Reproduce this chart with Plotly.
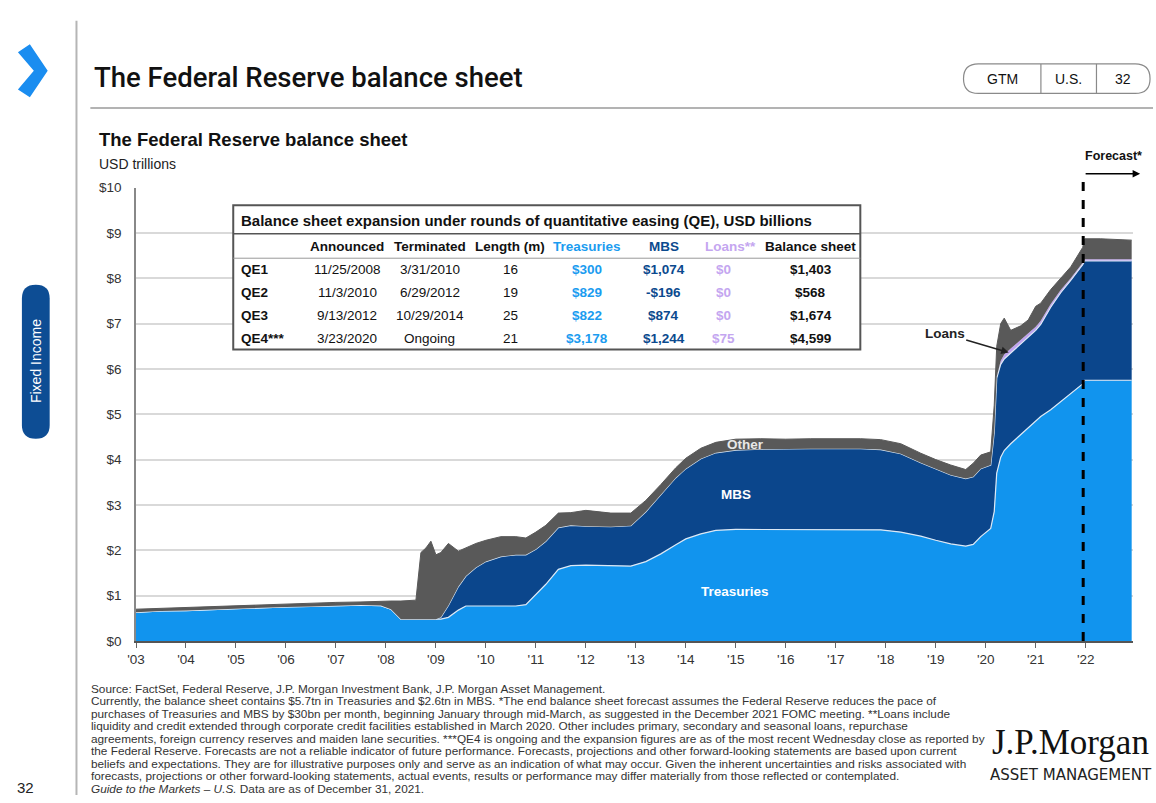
import plotly.graph_objects as go

W, H = 1156, 803

# decimal years of the sampled points
years = [
    2003.0, 2003.5, 2004.0, 2004.5, 2005.0, 2005.5, 2006.0, 2006.5, 2007.0, 2007.5,
    2007.9, 2008.1, 2008.3, 2008.6, 2008.7, 2008.8, 2008.9, 2009.0, 2009.1, 2009.25,
    2009.45, 2009.6, 2009.8, 2010.0, 2010.3, 2010.6, 2010.8, 2011.0, 2011.2, 2011.45,
    2011.7, 2012.0, 2012.5, 2012.9, 2013.2, 2013.5, 2013.8, 2014.0, 2014.3, 2014.6,
    2015.0, 2015.5, 2016.0, 2016.5, 2017.0, 2017.5, 2017.9, 2018.3, 2018.7, 2019.0,
    2019.3, 2019.6, 2019.75, 2019.9, 2020.1, 2020.17, 2020.22, 2020.3, 2020.37, 2020.5,
    2020.7, 2020.85, 2021.0, 2021.1, 2021.3, 2021.5, 2021.7, 2021.94, 2021.98, 2022.3,
    2022.6, 2022.92,
]

# USD trillions
treasuries = [
    0.63, 0.66, 0.67, 0.69, 0.72, 0.73, 0.75, 0.76, 0.78, 0.79,
    0.78, 0.70, 0.48, 0.48, 0.48, 0.48, 0.48, 0.48, 0.48, 0.52,
    0.68, 0.77, 0.77, 0.77, 0.77, 0.77, 0.80, 1.02, 1.25, 1.58,
    1.66, 1.67, 1.66, 1.65, 1.75, 1.92, 2.12, 2.25, 2.36, 2.44,
    2.46, 2.46, 2.46, 2.46, 2.46, 2.46, 2.45, 2.40, 2.31, 2.22,
    2.14, 2.09, 2.13, 2.30, 2.48, 2.85, 3.70, 4.05, 4.20, 4.35,
    4.55, 4.72, 4.85, 4.95, 5.10, 5.28, 5.45, 5.67, 5.75, 5.75,
    5.75, 5.75,
]
mbs = [
    0, 0, 0, 0, 0, 0, 0, 0, 0, 0,
    0, 0, 0, 0, 0, 0, 0, 0, 0.04, 0.26,
    0.52, 0.66, 0.85, 0.98, 1.09, 1.13, 1.10, 1.00, 0.95, 0.92,
    0.89, 0.86, 0.86, 0.89, 1.10, 1.31, 1.48, 1.55, 1.66, 1.71,
    1.75, 1.77, 1.78, 1.78, 1.78, 1.78, 1.77, 1.73, 1.62, 1.58,
    1.52, 1.49, 1.49, 1.50, 1.40, 1.75, 2.10, 2.05, 2.02, 2.00,
    2.00, 1.98, 2.00, 2.03, 2.26, 2.40, 2.50, 2.63, 2.63, 2.63,
    2.63, 2.63,
]
loans = [
    0, 0, 0, 0, 0, 0, 0, 0, 0, 0,
    0, 0, 0, 0, 0, 0, 0, 0, 0, 0,
    0, 0, 0, 0, 0, 0, 0, 0, 0, 0,
    0, 0, 0, 0, 0, 0, 0, 0, 0, 0,
    0, 0, 0, 0, 0, 0, 0, 0, 0, 0,
    0, 0, 0, 0, 0, 0, 0.03, 0.08, 0.10, 0.10,
    0.10, 0.09, 0.08, 0.08, 0.07, 0.06, 0.05, 0.04, 0.04, 0.04,
    0.04, 0.04,
]
other = [
    0.07, 0.06, 0.07, 0.07, 0.06, 0.06, 0.07, 0.07, 0.07, 0.07,
    0.10, 0.18, 0.40, 0.42, 1.47, 1.57, 1.72, 1.42, 1.43, 1.37,
    0.78, 0.62, 0.53, 0.47, 0.44, 0.40, 0.37, 0.38, 0.35, 0.32,
    0.28, 0.35, 0.30, 0.28, 0.25, 0.22, 0.22, 0.23, 0.23, 0.23,
    0.24, 0.23, 0.21, 0.22, 0.22, 0.22, 0.22, 0.22, 0.21, 0.20,
    0.22, 0.20, 0.30, 0.30, 0.29, 0.60, 0.67, 0.82, 0.80, 0.40,
    0.30, 0.29, 0.45, 0.39, 0.32, 0.26, 0.25, 0.34, 0.45, 0.45,
    0.44, 0.42,
]

tick_years = list(range(2003, 2023))
tick_labels = ["'" + str(y)[2:] for y in tick_years]
forecast_start = 2021.95

# QE table, USD billions
qe_rounds = ["QE1", "QE2", "QE3", "QE4***"]
announced = ["11/25/2008", "11/3/2010", "9/13/2012", "3/23/2020"]
terminated = ["3/31/2010", "6/29/2012", "10/29/2014", "Ongoing"]
length_m = [16, 19, 25, 21]
qe_treasuries = [300, 829, 822, 3178]
qe_mbs = [1074, -196, 874, 1244]
qe_loans = [0, 0, 0, 75]
qe_balance = [1403, 568, 1674, 4599]

footnotes = [
    "Source: FactSet, Federal Reserve, J.P. Morgan Investment Bank, J.P. Morgan Asset Management.",
    "Currently, the balance sheet contains $5.7tn in Treasuries and $2.6tn in MBS. *The end balance sheet forecast assumes the Federal Reserve reduces the pace of",
    "purchases of Treasuries and MBS by $30bn per month, beginning January through mid-March, as suggested in the December 2021 FOMC meeting. **Loans include",
    "liquidity and credit extended through corporate credit facilities established in March 2020. Other includes primary, secondary and seasonal loans, repurchase",
    "agreements, foreign currency reserves and maiden lane securities. ***QE4 is ongoing and the expansion figures are as of the most recent Wednesday close as reported by",
    "the Federal Reserve. Forecasts are not a reliable indicator of future performance. Forecasts, projections and other forward-looking statements are based upon current",
    "beliefs and expectations. They are for illustrative purposes only and serve as an indication of what may occur. Given the inherent uncertainties and risks associated with",
    "forecasts, projections or other forward-looking statements, actual events, results or performance may differ materially from those reflected or contemplated.",
    "<i>Guide to the Markets – U.S.</i> Data are as of December 31, 2021.",
]

C_TREAS = "#1194ee"
C_MBS = "#0b468c"
C_LOANS = "#bfa3ee"
C_OTHER = "#595959"
FONT = "Liberation Sans, Arial, sans-serif"


def px(x):
    return x / W


def py(y):
    return 1 - y / H


def money(v):
    s = "${:,}".format(abs(v))
    return "-" + s if v < 0 else s


def rounded(x0, y0, x1, y1, r):
    pts = [
        ("M", x0 + r, y0), ("L", x1 - r, y0), ("Q", x1, y0, x1, y0 + r),
        ("L", x1, y1 - r), ("Q", x1, y1, x1 - r, y1), ("L", x0 + r, y1),
        ("Q", x0, y1, x0, y1 - r), ("L", x0, y0 + r), ("Q", x0, y0, x0 + r, y0),
    ]
    out = []
    for p in pts:
        cmd, vals = p[0], p[1:]
        coords = []
        for i in range(0, len(vals), 2):
            coords.append("%.5f,%.5f" % (px(vals[i]), py(vals[i + 1])))
        out.append(cmd + " " + " ".join(coords))
    return " ".join(out) + " Z"


def poly(points):
    return "M " + " L ".join("%.5f,%.5f" % (px(x), py(y)) for x, y in points) + " Z"


fig = go.Figure()

fig.add_trace(go.Scatter(x=years, y=treasuries, name="Treasuries", stackgroup="bs",
                         mode="lines", line=dict(color="#dce9f6", width=1.2),
                         fillcolor=C_TREAS))
fig.add_trace(go.Scatter(x=years, y=mbs, name="MBS", stackgroup="bs",
                         mode="lines", line=dict(color="#dce9f6", width=1.2),
                         fillcolor=C_MBS))
fig.add_trace(go.Scatter(x=years, y=loans, name="Loans", stackgroup="bs",
                         mode="lines", line=dict(color=C_LOANS, width=0),
                         fillcolor=C_LOANS))
fig.add_trace(go.Scatter(x=years, y=other, name="Other", stackgroup="bs",
                         mode="lines", line=dict(color=C_OTHER, width=1),
                         fillcolor=C_OTHER))

shapes = []
ann = []

# page furniture
shapes.append(dict(type="line", xref="paper", yref="paper", x0=px(68), x1=px(68),
                   y0=py(14), y1=py(803), line=dict(color="#b5b5b5", width=2)))
shapes.append(dict(type="line", xref="paper", yref="paper", x0=px(82), x1=px(1153),
                   y0=py(103), y1=py(103), line=dict(color="#9a9a9a", width=1.5)))
shapes.append(dict(type="path", xref="paper", yref="paper",
                   path=poly([(9, 46), (21, 38), (39, 65), (21, 92), (9, 84), (25, 65)]),
                   fillcolor="#1a8df0", line=dict(width=0)))
shapes.append(dict(type="path", xref="paper", yref="paper",
                   path=rounded(13, 283, 41, 440, 14),
                   fillcolor="#0d4d94", line=dict(width=0)))
shapes.append(dict(type="path", xref="paper", yref="paper",
                   path=rounded(962, 58, 1150, 88, 15),
                   fillcolor="white", line=dict(color="#8a8a8a", width=1.2)))
for xd in (1040, 1096):
    shapes.append(dict(type="line", xref="paper", yref="paper", x0=px(xd), x1=px(xd),
                       y0=py(58), y1=py(88), line=dict(color="#8a8a8a", width=1.2)))

# forecast divider
shapes.append(dict(type="line", xref="x", yref="paper", x0=forecast_start, x1=forecast_start,
                   y0=py(646), y1=py(173), line=dict(color="black", width=3, dash="dash")))

# table frame
shapes.append(dict(type="rect", xref="paper", yref="paper", x0=px(226), x1=px(858),
                   y0=py(349), y1=py(202), fillcolor="white",
                   line=dict(color="#555555", width=2), layer="above"))
shapes.append(dict(type="line", xref="paper", yref="paper", x0=px(226), x1=px(858),
                   y0=py(231), y1=py(231), line=dict(color="#555555", width=1.5), layer="above"))
shapes.append(dict(type="line", xref="paper", yref="paper", x0=px(226), x1=px(858),
                   y0=py(256), y1=py(256), line=dict(color="#9a9a9a", width=1), layer="above"))


def text(x, y, s, size=13, color="#111", bold=False, xanchor="center", family=FONT,
         weight=None, **kw):
    if bold:
        s = "<b>" + s + "</b>"
    font = dict(size=size, color=color, family=family)
    if weight:
        font["weight"] = weight
    d = dict(xref="paper", yref="paper", x=px(x), y=py(y), text=s, showarrow=False,
             xanchor=xanchor, yanchor="middle", font=font)
    d.update(kw)
    ann.append(d)


text(84, 72, "The Federal Reserve balance sheet", size=27.5, color="#111", xanchor="left",
     family="Roboto, Liberation Sans, sans-serif", weight=500)
text(1001, 73, "GTM", size=14)
text(1068, 73, "U.S.", size=14)
text(1123, 73, "32", size=14)
text(27, 361, "Fixed Income", size=14, color="white", textangle=-90)
text(17, 795, "32", size=15, color="#222")

text(89, 135, "The Federal Reserve balance sheet", size=18.5, bold=True, xanchor="left")
text(89, 160, "USD trillions", size=14, xanchor="left", color="#222")
text(1113, 152, "Forecast*", size=12.5, bold=True)
ann.append(dict(xref="paper", yref="paper", x=px(1140), y=py(170), ax=-56, ay=0,
                showarrow=True, arrowhead=2, arrowsize=1, arrowwidth=1.5,
                arrowcolor="black", text=""))

# series labels inside the chart
for label, xv, yv, col in [("Other", 2015.2, 4.33, "#e8e8e8"),
                           ("MBS", 2015.0, 3.22, "white"),
                           ("Treasuries", 2014.98, 1.08, "white")]:
    ann.append(dict(xref="x", yref="y", x=xv, y=yv, text="<b>" + label + "</b>",
                    showarrow=False, font=dict(size=13.5, color=col, family=FONT)))
ann.append(dict(xref="x", yref="y", x=2020.46, y=6.36, text="<b>Loans</b>",
                showarrow=True, ax=-64, ay=-19, arrowhead=2, arrowsize=1, arrowwidth=1.5,
                arrowcolor="#222", font=dict(size=13.5, color="#222", family=FONT)))

# table text
text(232, 218, "Balance sheet expansion under rounds of quantitative easing (QE), USD billions",
     size=15, bold=True, xanchor="left")
cols = [
    ("Announced", 341, "#111", False, announced),
    ("Terminated", 424, "#111", False, terminated),
    ("Length (m)", 505, "#111", False, [str(v) for v in length_m]),
    ("Treasuries", 583, "#1b9cf0", True, [money(v) for v in qe_treasuries]),
    ("MBS", 660, "#0b4a8e", True, [money(v) for v in qe_mbs]),
    ("Loans**", 727, "#c4a6f0", True, [money(v) for v in qe_loans]),
    ("Balance sheet", 808, "#111", True, [money(v) for v in qe_balance]),
]
row_y = [268, 291, 314, 338]
for header, cx, col, bold, vals in cols:
    text(cx, 244, header, size=13.5, bold=True, color=col)
    for i, v in enumerate(vals):
        cxv = 720 if header == "Loans**" else cx
        text(cxv, row_y[i], v, size=13.5, bold=bold, color=col)
for i, r in enumerate(qe_rounds):
    text(232, row_y[i], r, size=13.5, bold=True, xanchor="left")

# footnotes
for i, line in enumerate(footnotes):
    text(81, 695 + i * 12.7, line, size=11.8, color="#333", xanchor="left")

# logo
text(1070, 749, "J.P.Morgan", size=35, color="#111",
     family="Liberation Serif, DejaVu Serif, serif")
text(1070, 783, "ASSET MANAGEMENT", size=15, color="#222",
     family="DejaVu Sans, Liberation Sans, sans-serif")

fig.update_layout(
    width=W,
    height=H,
    margin=dict(l=0, r=0, t=0, b=0),
    paper_bgcolor="white",
    plot_bgcolor="white",
    showlegend=False,
    font=dict(family=FONT, size=13, color="#333"),
    shapes=shapes,
    annotations=ann,
    xaxis=dict(
        domain=[px(128), px(1133)],
        range=[2003, 2022.95],
        tickvals=tick_years,
        ticktext=tick_labels,
        ticks="outside",
        ticklen=5,
        tickcolor="#666",
        showline=True,
        linecolor="#555",
        linewidth=1.5,
        showgrid=False,
        zeroline=False,
        tickfont=dict(size=13.5, color="#333"),
    ),
    yaxis=dict(
        domain=[py(646), py(184)],
        range=[0, 10],
        dtick=1,
        tickprefix="$",
        showgrid=True,
        gridcolor="#d9d9d9",
        gridwidth=1.5,
        showline=True,
        linecolor="#888",
        linewidth=1.5,
        zeroline=False,
        ticks="",
        ticklabelstandoff=10,
        tickfont=dict(size=13.5, color="#333"),
    ),
)

fig.write_html("out.html", post_script="document.body.style.margin='0';",
               config={"displayModeBar": False})
